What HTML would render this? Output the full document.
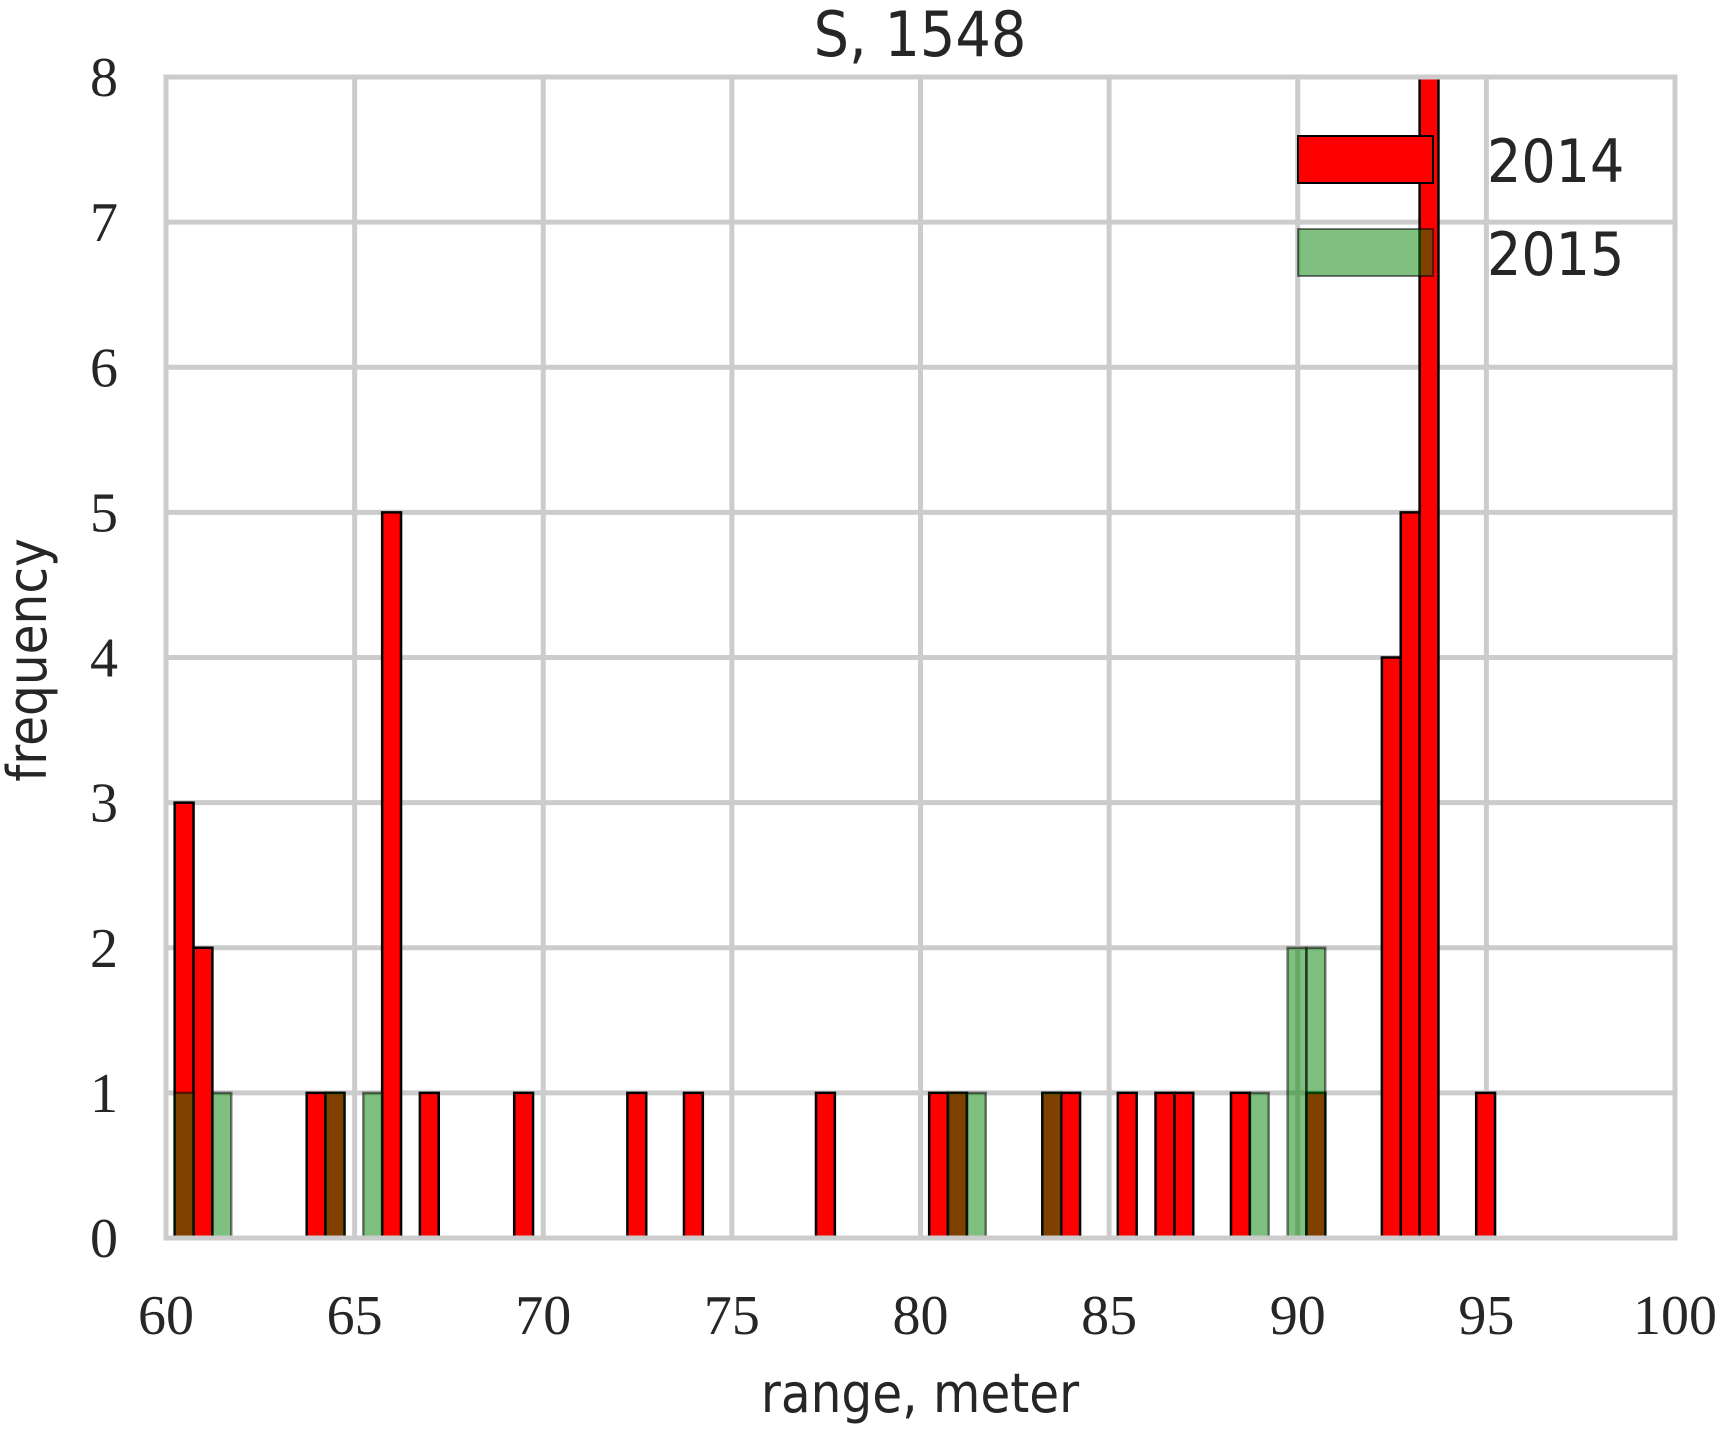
<!DOCTYPE html>
<html><head><meta charset="utf-8"><style>
html,body{margin:0;padding:0;background:#fff;}
svg{display:block;}
.tick{font-family:"Liberation Serif","DejaVu Serif",serif;font-size:56px;fill:#262626;}
.lab{font-family:"DejaVu Sans Condensed","DejaVu Sans","Liberation Sans",sans-serif;fill:#262626;}
</style></head>
<body>
<svg id="chart" width="1724" height="1430" viewBox="0 0 1724 1430" xmlns="http://www.w3.org/2000/svg">
<g id="grid"></g>
<g id="bars"></g>
<g id="frame"></g>
<g id="ticks"></g>
<text class="lab" x="920" y="56" font-size="62" text-anchor="middle">S, 1548</text>
<text class="lab" x="920" y="1412" font-size="54" text-anchor="middle">range, meter</text>
<text class="lab" x="0" y="0" font-size="54" text-anchor="middle" transform="translate(46,660) rotate(-90)">frequency</text>
<g>
 <rect x="1298" y="136" width="135" height="47" fill="#ff0000" stroke="#000" stroke-width="2"/>
 <text class="lab" x="1487" y="182" font-size="60">2014</text>
 <rect x="1298" y="229" width="135" height="47" fill="rgba(0,128,0,0.5)" stroke="rgba(0,0,0,0.5)" stroke-width="2"/>
 <text class="lab" x="1487" y="275" font-size="60">2015</text>
</g>
</svg>
<script>
const binStart = 60.23;
const binWidth = 0.5;
const bins2014 = [0,1,7,8,11,13,18,24,27,34,40,41,46,47,50,52,53,56,60,64,65,66,69];
const counts2014 = [3,2,1,1,5,1,1,1,1,1,1,1,1,1,1,1,1,1,1,4,5,8,1];
const bins2015 = [0,2,8,10,41,42,46,57,59,60];
const counts2015 = [1,1,1,1,1,1,1,1,2,2];
const xTicks = [60,65,70,75,80,85,90,95,100];
const yTicks = [0,1,2,3,4,5,6,7,8];

const L=166,R=1675,T=77,B=1238;
const xs=v=>L+(v-60)/40*(R-L);
const ys=v=>B-v/8*(B-T);
const NS="http://www.w3.org/2000/svg";
function mk(tag,parent,attrs){const e=document.createElementNS(NS,tag);for(const k in attrs)e.setAttribute(k,attrs[k]);parent.appendChild(e);return e;}
const grid=document.getElementById('grid'),bars=document.getElementById('bars'),ticks=document.getElementById('ticks'),frame=document.getElementById('frame');
xTicks.forEach(t=>{
 const l=mk('line',grid,{x1:xs(t),x2:xs(t),y1:T,y2:B,stroke:'#cccccc','stroke-width':5});
 
 
 const tx=mk('text',ticks,{x:xs(t),y:1334,'text-anchor':'middle',class:'tick'});
 tx.textContent=t;
 
 
});
yTicks.forEach(t=>{
 const l=mk('line',grid,{x1:L,x2:R,y1:ys(t),y2:ys(t),stroke:'#cccccc','stroke-width':5});
 
 
 const tx=mk('text',ticks,{x:118,y:ys(t)+19,'text-anchor':'end',class:'tick'});
 tx.textContent=t;
 
 
});
function drawBars(b,c,fill,stroke,name){
 b.forEach((bi,i)=>{
  const x0=binStart+bi*binWidth;
  const r=mk('rect',bars,{x:xs(x0),y:ys(c[i]),width:xs(x0+binWidth)-xs(x0),height:ys(0)-ys(c[i]),fill:fill,stroke:stroke,'stroke-width':2.5});
  
  
 });
}
drawBars(bins2014,counts2014,'#ff0000','#000','bar-2014');
drawBars(bins2015,counts2015,'rgba(0,128,0,0.5)','rgba(0,0,0,0.5)','bar-2015');
const fr=mk('rect',frame,{x:L,y:T,width:R-L,height:B-T,fill:'none',stroke:'#cccccc','stroke-width':5});
</script>
</body></html>
